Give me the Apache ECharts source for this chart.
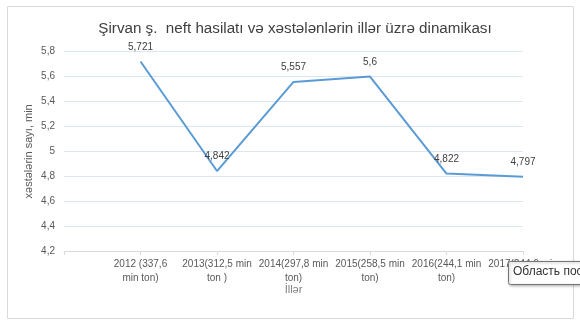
<!DOCTYPE html>
<html><head><meta charset="utf-8">
<script src="https://cdn.jsdelivr.net/npm/echarts@6/dist/echarts.min.js"></script>
<style>html,body{margin:0;padding:0;background:#fff}#c{width:580px;height:326px}</style>
</head><body><div id="c"></div>
<script>
const categories = ['', '2012 (337,6\nmin ton)', '2013(312,5 min\nton )', '2014(297,8 min\nton)', '2015(258,5 min\nton)', '2016(244,1 min\nton)', '2017(244,6 min\nton)'];
const values = [null, 5.721, 4.842, 5.557, 5.6, 4.822, 4.797];
const valueLabels = ['', '5,721', '4,842', '5,557', '5,6', '4,822', '4,797'];
const yMin = 4.2, yMax = 5.8, yStep = 0.2;
const FONT = 'Liberation Sans';
const chart = echarts.init(document.getElementById('c'), null, {renderer: 'canvas'});
chart.setOption({
  animation: false,
  textStyle: {fontFamily: FONT},
  title: {
    text: 'Şirvan ş.  neft hasilatı və xəstələnlərin illər üzrə dinamikası',
    left: 290, textAlign: 'center', top: 16,
    textStyle: {fontFamily: FONT, fontSize: 15.2, fontWeight: 'normal', color: '#404040'}
  },
  grid: {left: 64, right: 57, top: 51.7, bottom: 75, containLabel: false},
  xAxis: {
    type: 'category', data: categories, boundaryGap: false,
    name: 'İllər', nameLocation: 'middle', nameGap: 33, nameMoveOverlap: false,
    nameTextStyle: {fontFamily: FONT, fontSize: 11, color: '#7f7f7f'},
    axisLine: {lineStyle: {color: '#d9d9d9', width: 1}},
    axisTick: {show: true, length: 4, lineStyle: {color: '#d9d9d9'}},
    axisLabel: {fontFamily: FONT, fontSize: 10, color: '#595959', lineHeight: 14, margin: 6, interval: 0}
  },
  yAxis: {
    type: 'value', min: yMin, max: yMax, interval: yStep,
    name: 'xəstələrin sayı, min', nameLocation: 'middle', nameGap: 30, nameRotate: 90, nameMoveOverlap: false,
    nameTextStyle: {fontFamily: FONT, fontSize: 11, color: '#595959'},
    axisLine: {show: false}, axisTick: {show: false},
    axisLabel: {fontFamily: FONT, fontSize: 10, color: '#595959', margin: 9,
      formatter: v => String(+v.toFixed(1)).replace('.', ',')},
    splitLine: {lineStyle: {color: '#dce6f2', width: 1}}
  },
  series: [{
    type: 'line', data: values, symbol: 'circle', symbolSize: 1, showSymbol: true, connectNulls: false,
    itemStyle: {color: 'rgba(0,0,0,0)'},
    lineStyle: {color: '#5b9bd5', width: 2},
    label: {show: true, position: 'top', distance: 9, fontFamily: FONT, fontSize: 10, color: '#404040',
      formatter: p => valueLabels[p.dataIndex]}
  }],
  graphic: [
    {type: 'rect', shape: {x: 7.5, y: 6.5, width: 566, height: 312}, style: {fill: null, stroke: '#d9d9d9', lineWidth: 1}, z: -1},
    {type: 'rect', shape: {x: 508.5, y: 261.5, width: 80, height: 23, r: 2}, style: {fill: '#ffffff', stroke: '#767676', lineWidth: 1, shadowBlur: 3, shadowColor: 'rgba(0,0,0,0.3)', shadowOffsetX: 1, shadowOffsetY: 1}, z: 100},
    {type: 'text', x: 513, y: 266, style: {text: 'Область построения', fontFamily: FONT, fontSize: 12, fill: '#333333'}, z: 101}
  ]
});
</script></body></html>
